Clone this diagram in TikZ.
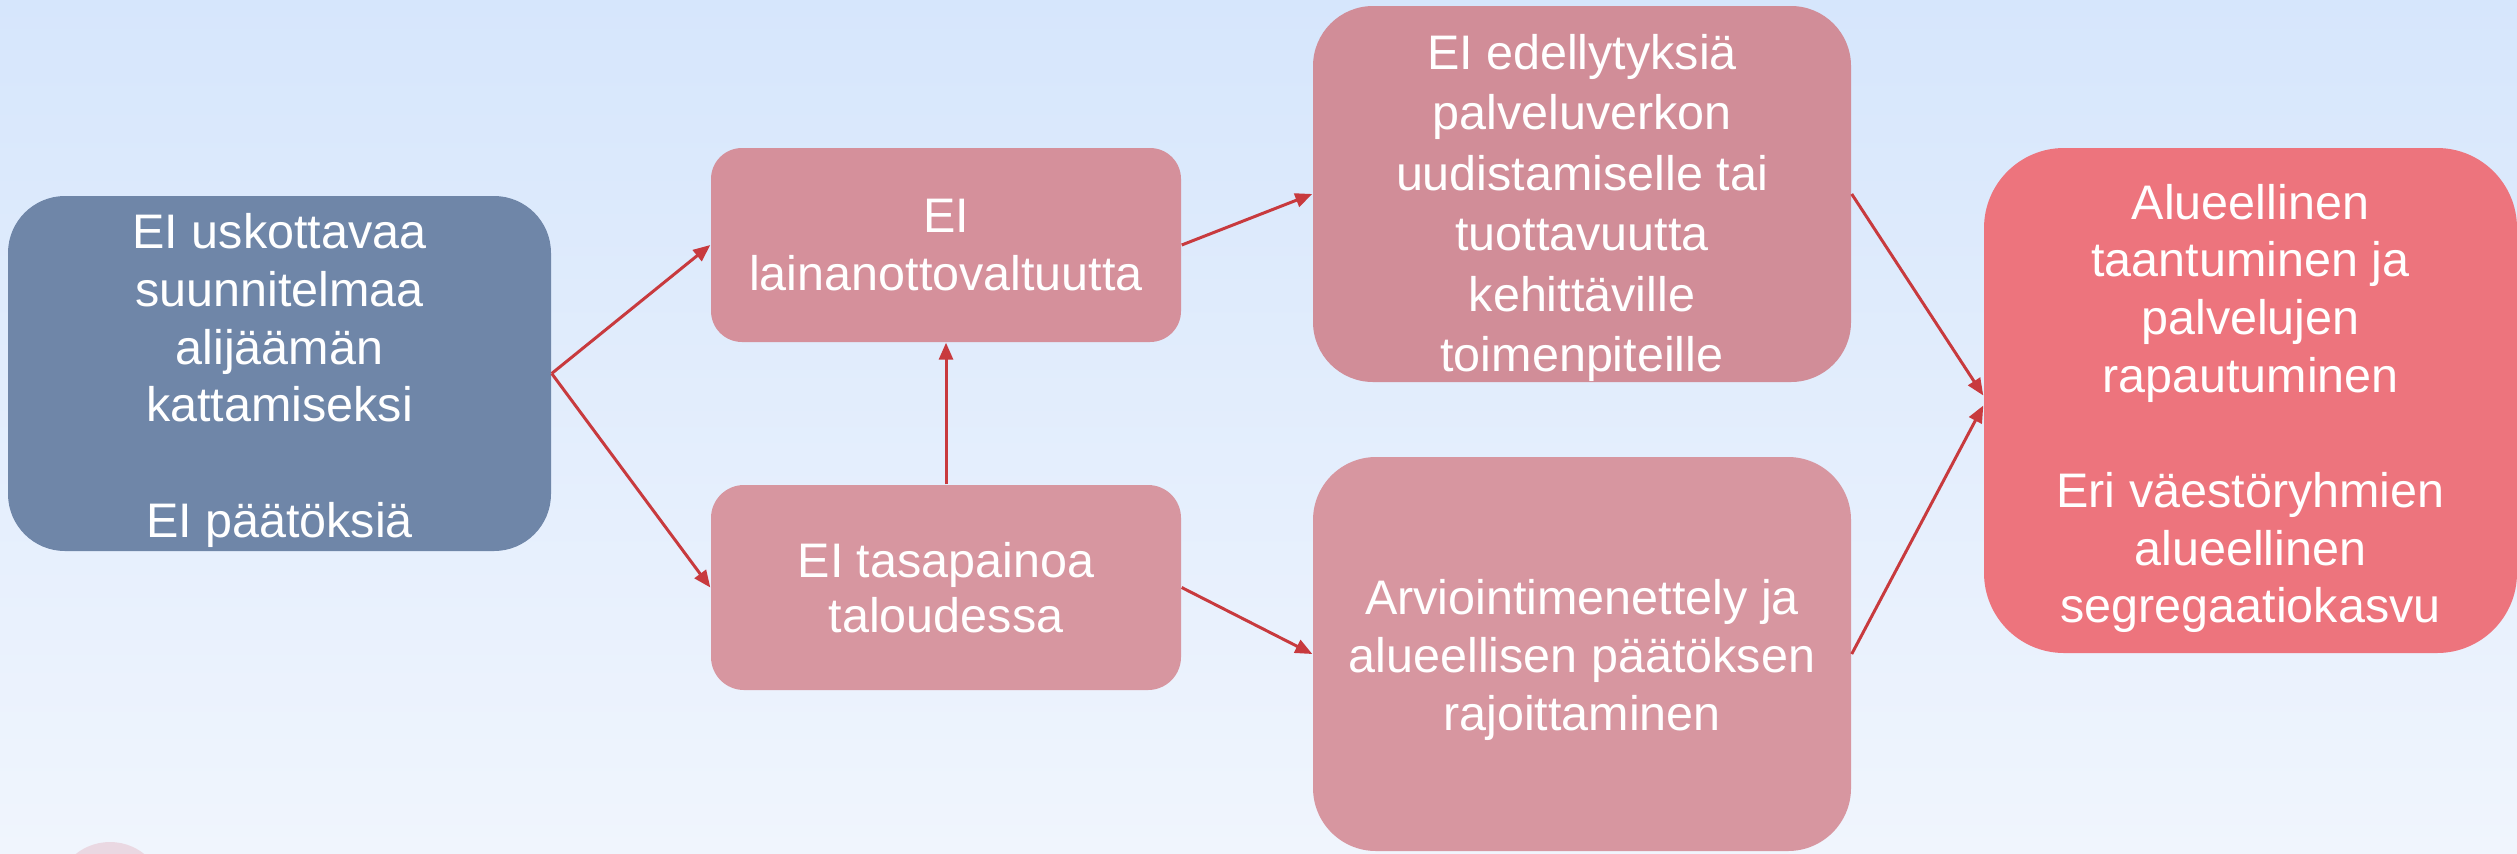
\documentclass[tikz,border=0pt]{standalone}
\usepackage{fontspec}
\setmainfont{Liberation Sans}
\usetikzlibrary{arrows.meta}

\definecolor{bgtop}{RGB}{214,230,252}
\definecolor{bgbottom}{RGB}{240,245,253}
\definecolor{planfill}{RGB}{111,134,168}
\definecolor{causefill}{RGB}{213,144,155}
\definecolor{resultfill}{RGB}{237,116,125}
\definecolor{linkred}{RGB}{200,58,62}
\definecolor{spotpink}{RGB}{234,216,226}

\tikzstyle{box}=[draw=none, rectangle, text=white, align=center, inner sep=0pt, font=\fontsize{13.8}{16.4}\selectfont]
\tikzstyle{boxtext}=[text=white, align=center, inner sep=0pt, font=\fontsize{13.8}{16.4}\selectfont]
\tikzstyle{link}=[draw=linkred, line width=0.85pt, -{Triangle[length=0.17cm,width=0.14cm]}]

\begin{document}
\begin{tikzpicture}

% background
\useasboundingbox (0,0) rectangle (25.17,8.53);
\shade[top color=bgtop, bottom color=bgbottom] (0,0) rectangle (25.17,8.53);
\fill[spotpink] (1.10,-0.44) circle (0.55);

% boxes
\node[box, fill=planfill, rounded corners=0.57cm, minimum width=5.43cm, minimum height=3.55cm] (plan) at (2.795,4.795) {};
\node[boxtext] (planteksti) at ([yshift=-0.07cm]plan.center)
  {EI uskottavaa\\suunnitelmaa\\alijäämän\\kattamiseksi\\[16.4pt]EI päätöksiä};
\node[box, fill=causefill, rounded corners=0.31cm, minimum width=4.70cm, minimum height=1.94cm] (laina) at (9.46,6.08)
  {EI\\lainanottovaltuutta};
\node[box, fill=causefill!95!white, rounded corners=0.33cm, minimum width=4.70cm, minimum height=2.05cm, font=\fontsize{13.8}{15.6}\selectfont] (tasapaino) at (9.46,2.655)
  {EI tasapainoa\\taloudessa};
\node[box, fill=causefill!98!black, rounded corners=0.6cm, minimum width=5.38cm, minimum height=3.76cm] (edellytys) at (15.82,6.59) {};
\node[boxtext, font=\fontsize{13.8}{17.2}\selectfont] (edellytysteksti) at ([yshift=-0.14cm]edellytys.center)
  {EI edellytyksiä\\palveluverkon\\uudistamiselle tai\\tuottavuutta\\kehittäville\\toimenpiteille};
\node[box, fill=causefill!95!white, rounded corners=0.63cm, minimum width=5.38cm, minimum height=3.94cm] (arviointi) at (15.82,1.99) {};
\node[boxtext] (arviointiteksti) at ([yshift=-0.06cm]arviointi.center)
  {Arviointimenettely ja\\alueellisen päätöksen\\rajoittaminen};
\node[box, fill=resultfill, rounded corners=0.8cm, minimum width=5.33cm, minimum height=5.05cm] (taantuma) at (22.505,4.525) {};
\node[boxtext] (taantumateksti) at ([yshift=-0.08cm]taantuma.center)
  {Alueellinen\\taantuminen ja\\palvelujen\\rapautuminen\\[16.4pt]Eri väestöryhmien\\alueellinen\\segregaatiokasvu};

% connectors
\draw[link] (plan.east) -- (laina.west);
\draw[link] (plan.east) -- (tasapaino.west);
\draw[link] (tasapaino.north) -- (laina.south);
\draw[link] (laina.east) -- (edellytys.west);
\draw[link] (tasapaino.east) -- (arviointi.west);
\draw[link] (edellytys.east) -- ([yshift=0.05cm]taantuma.west);
\draw[link] (arviointi.east) -- ([yshift=-0.05cm]taantuma.west);

\end{tikzpicture}
\end{document}
